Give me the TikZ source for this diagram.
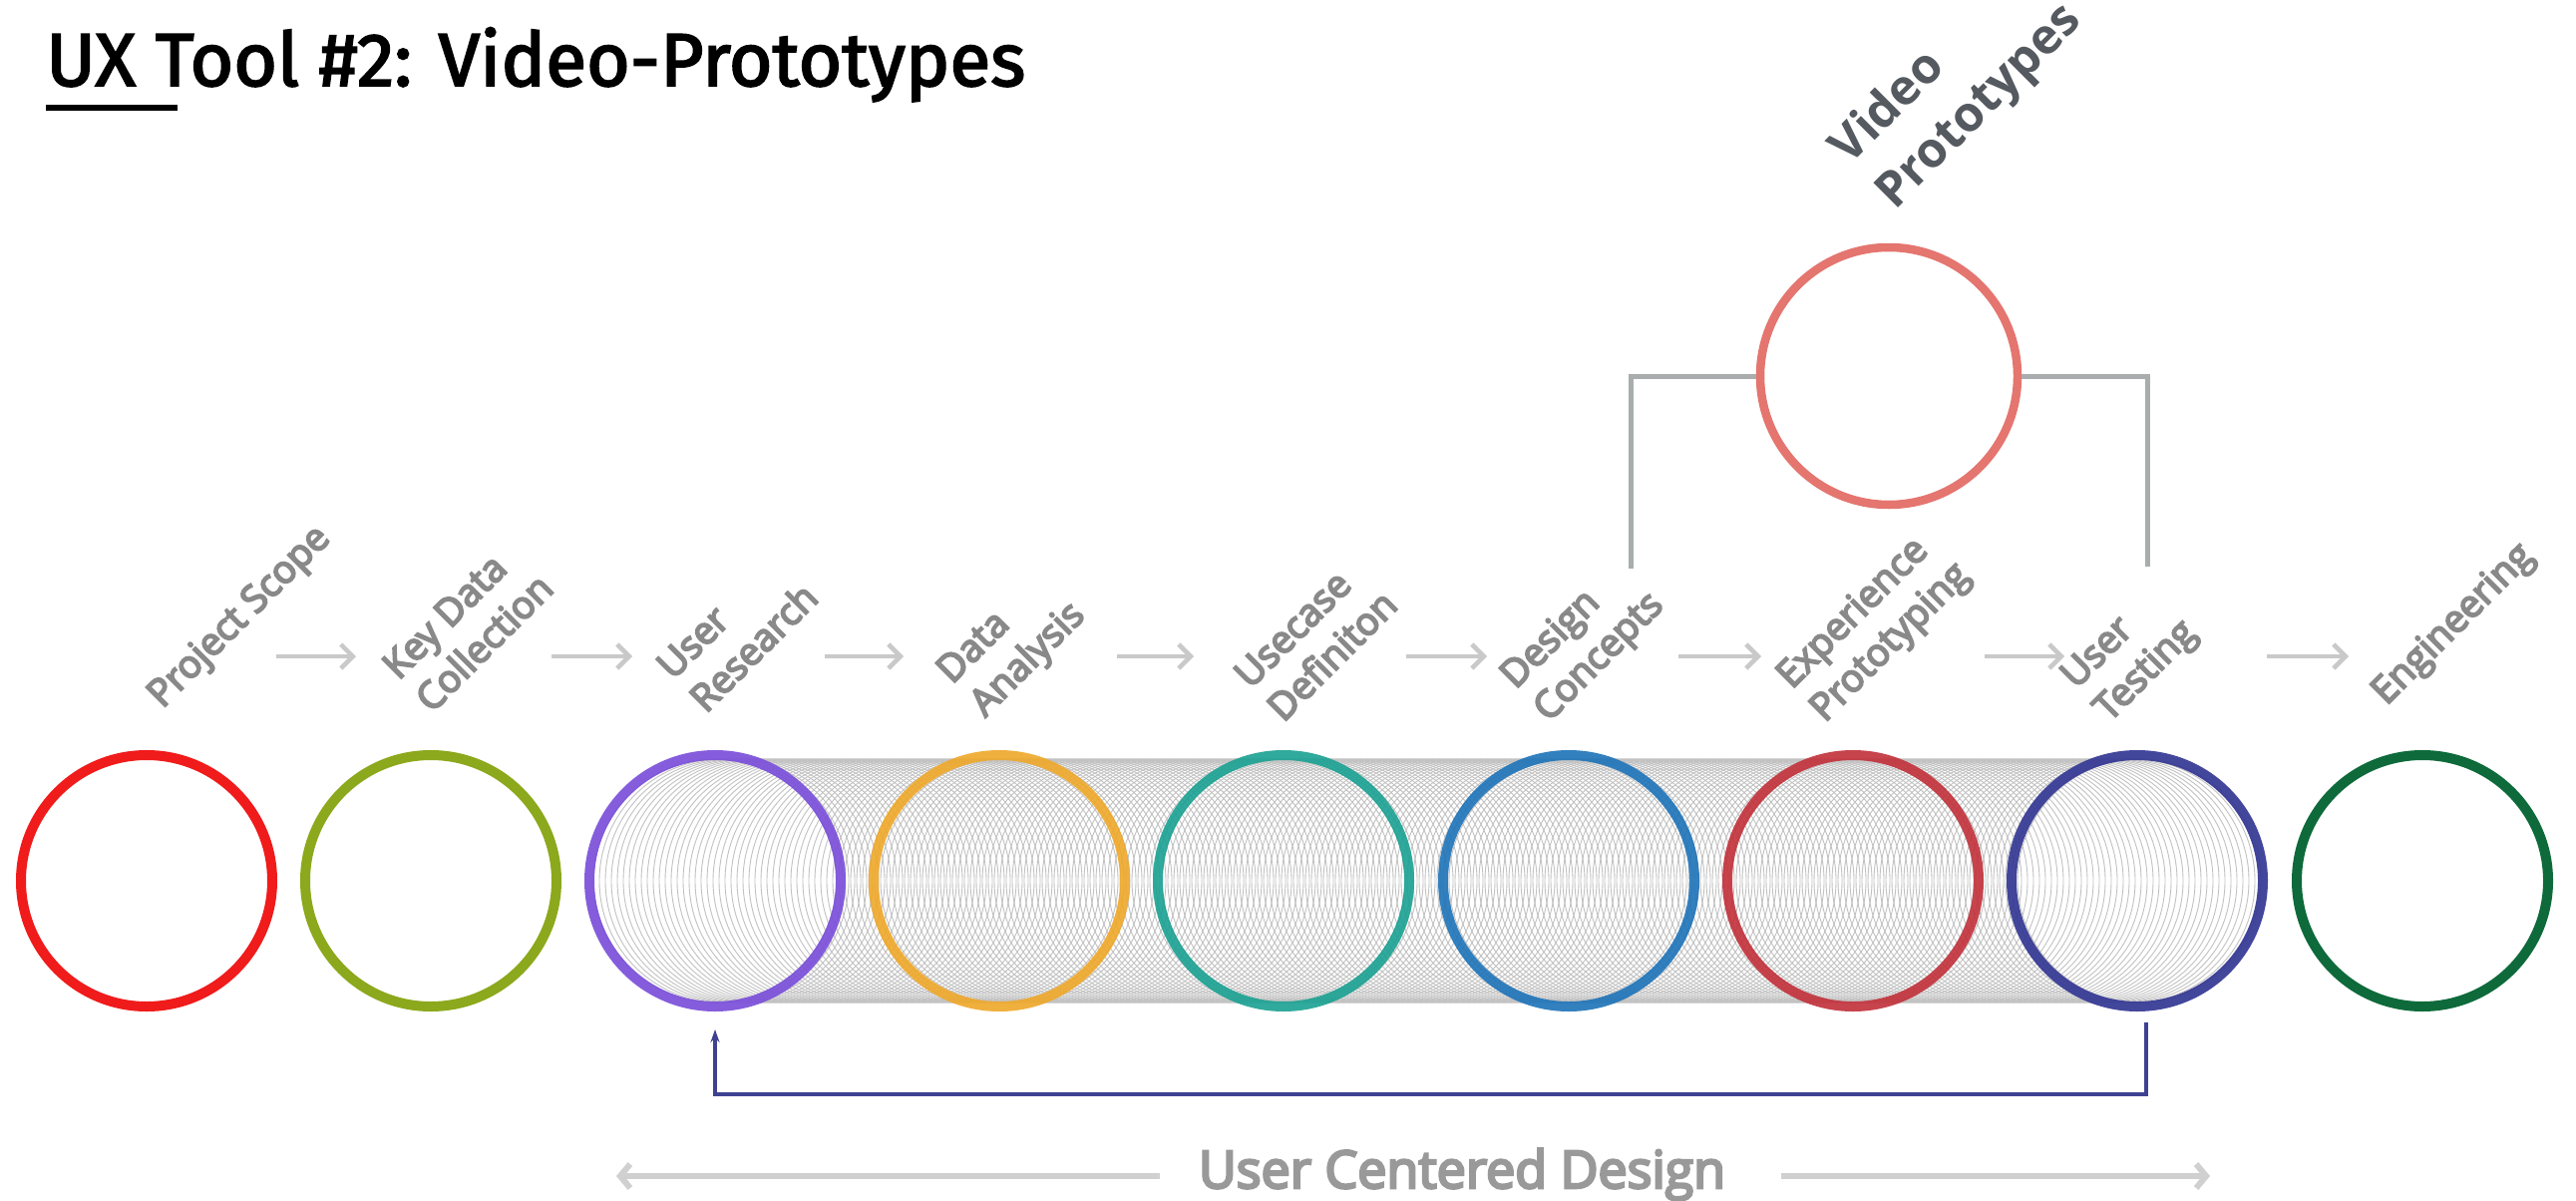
\documentclass[tikz,border=0pt]{standalone}
\usepackage{fontspec}
\usepackage{graphicx}
\setmainfont{Open Sans}
\newfontfamily\titlefont{Fira Sans}[FakeBold=2.5]
\newfontfamily\labelfont{Open Sans}
\newfontfamily\semifont{Open Sans}[FakeBold=5]
\usetikzlibrary{arrows.meta,calc}
\definecolor{cA}{HTML}{F01B1B}
\definecolor{cB}{HTML}{8CA81C}
\definecolor{cC}{HTML}{7B50DA}
\definecolor{cD}{HTML}{EFA82A}
\definecolor{cE}{HTML}{1AA192}
\definecolor{cF}{HTML}{1D73B9}
\definecolor{cG}{HTML}{C2303A}
\definecolor{cH}{HTML}{343894}
\definecolor{cI}{HTML}{0E6A3A}
\definecolor{vpred}{HTML}{E4756F}
\definecolor{vpgray}{HTML}{555A60}
\definecolor{lblgray}{HTML}{898989}
\definecolor{flowgray}{HTML}{C9C9C9}
\definecolor{tubegray}{HTML}{C2C2C2}
\definecolor{brgray}{HTML}{A9ADAD}
\definecolor{fbnavy}{HTML}{3F4190}
\definecolor{ucdgray}{HTML}{999999}
\definecolor{ucdline}{HTML}{D0D0D0}
\begin{document}
\begin{tikzpicture}[x=1pt,y=-1pt,
  ring/.style={circle, draw, line width=10pt, minimum size=252pt, inner sep=0pt},
  lbl/.style={rotate=45, anchor=south west, inner sep=0pt, align=left, text depth=0pt, text=lblgray, font=\semifont\fontsize{38}{47}\selectfont},
  flow/.style={draw=flowgray, line width=4.5pt, -{Straight Barb[length=12pt,width=24pt]}},
  tube/.style={draw=tubegray, line width=0.9pt},
  bracket/.style={draw=brgray, line width=5pt},
  fb/.style={draw=fbnavy, line width=3.5pt, -{Stealth[length=13pt,width=9pt]}},
  ucdarrow/.style={draw=ucdline, line width=6pt, -{Straight Barb[length=10pt,width=24pt]}}
]
\useasboundingbox[fill=white] (0,0) rectangle (2583,1204);

% title
\node[anchor=base west, inner sep=0pt] (title) at (46,86)
  {\resizebox{982pt}{!}{\titlefont\fontsize{77}{80}\selectfont UX Tool \#2: Video-Prototypes}};
\draw[line width=6pt] (46,108) -- (178,108);

% tube
\foreach \k in {0,...,238} \draw[tube] ({717+6*\k},883) circle[radius=122pt];
\draw[tube] (2143,883) circle[radius=122pt];

% rings
\node[ring, draw=cA] (c1) at (147,883) {};
\node[ring, draw=cB] (c2) at (432,883) {};
\node[ring, draw=cC, draw opacity=0.92] (c3) at (717,883) {};
\node[ring, draw=cD, draw opacity=0.9] (c4) at (1002,883) {};
\node[ring, draw=cE, draw opacity=0.9] (c5) at (1287,883) {};
\node[ring, draw=cF, draw opacity=0.9] (c6) at (1573,883) {};
\node[ring, draw=cG, draw opacity=0.9] (c7) at (1858,883) {};
\node[ring, draw=cH, draw opacity=0.92] (c8) at (2143,883) {};
\node[ring, draw=cI] (c9) at (2429,883) {};

% labels
\node[lbl] (l1) at (163,711) {Project Scope};
\node[lbl] (l2) at (433,716) {Key Data\\Collection};
\node[lbl] (l3) at (708,716) {User\\Research};
\node[lbl] (l4) at (988,720) {Data\\Analysis};
\node[lbl] (l5) at (1287,725) {Usecase\\Definiton};
\node[lbl] (l6) at (1553,725) {Design\\Concepts};
\node[lbl] (l7) at (1830,725) {Experience\\Prototyping};
\node[lbl] (l8) at (2115,725) {User\\Testing};
\node[lbl] (l9) at (2393,708) {Engineering};

% flow arrows
\foreach \s/\e [count=\i] in {277/357,553/634,827/906,1120/1197,1410/1491,1683/1766,1990/2070,2273/2355}{
  \coordinate (fa\i) at (\s,658);
  \coordinate (fb\i) at (\e,658);
  \draw[flow] (fa\i) -- (fb\i);
}

% video prototypes
\node[circle, draw=vpred, line width=8.5pt, minimum size=258pt, inner sep=0pt] (vp) at (1894,377) {};
\node[rotate=45, anchor=south west, inner sep=0pt, align=left, text depth=0pt, text=vpgray,
  font=\labelfont\bfseries\fontsize{49}{64}\selectfont] (vptext) at (1900,212) {Video\\Prototypes};
\coordinate (bl) at (1635,570);
\coordinate (br) at (2153,568);
\draw[bracket] (bl) |- (vp.west);
\draw[bracket] (vp.east) -| (br);

% feedback loop
\draw[fb] ($(c8.south)+(9,11)$) |- ($(c3.south)+(0,83)$) -- ($(c3.south)+(0,18)$);

% user centered design
\node[anchor=base, inner sep=0pt, text=ucdgray, font=\semifont\fontsize{52}{52}\selectfont] (ucd) at (1466,1191) {User Centered Design};
\coordinate (ul1) at (1163,1179);
\coordinate (ul2) at (618,1179);
\coordinate (ur1) at (1786,1179);
\coordinate (ur2) at (2216,1179);
\draw[ucdarrow] (ul1) -- (ul2);
\draw[ucdarrow] (ur1) -- (ur2);
\end{tikzpicture}
\end{document}
